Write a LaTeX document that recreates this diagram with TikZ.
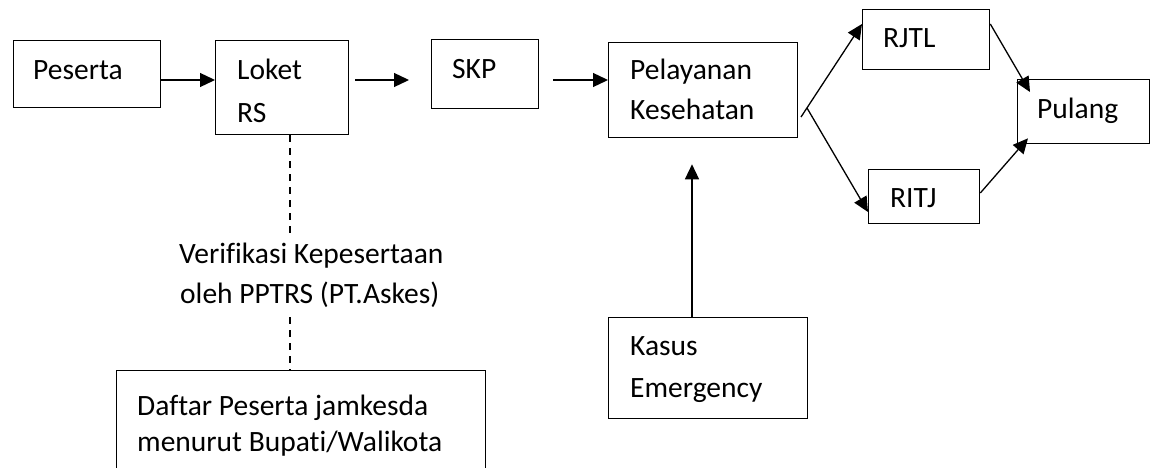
\documentclass[tikz,border=0pt]{standalone}
\usepackage{fontspec}
\setmainfont[Ligatures={NoCommon}]{Carlito}
\usetikzlibrary{arrows.meta,calc}
\begin{document}
\begin{tikzpicture}[x=1pt,y=-1pt,
  box/.style={draw, line width=1.3pt, inner sep=0pt, anchor=north west},
  lbl/.style={anchor=base west, inner sep=0pt, font=\fontsize{29.5}{40}\selectfont},
  arr/.style={line width=1.3pt, -{Triangle[length=15pt,width=14pt]}},
  dashline/.style={line width=1.3pt, dash pattern=on 7pt off 6pt}]
\useasboundingbox (0,0) rectangle (1150,468);
% boxes
\node[box, minimum width=147pt, minimum height=67pt] (peserta) at (13,40) {};
\node[box, minimum width=133pt, minimum height=94pt] (loket) at (215,40) {};
\node[box, minimum width=107pt, minimum height=69pt] (skp) at (431,39) {};
\node[box, minimum width=189pt, minimum height=95pt] (pel) at (608,42) {};
\node[box, minimum width=127pt, minimum height=60pt] (rjtl) at (862,9) {};
\node[box, minimum width=111pt, minimum height=54pt] (ritj) at (868,169) {};
\node[box, minimum width=132pt, minimum height=64pt] (pulang) at (1017,79) {};
\node[box, minimum width=199pt, minimum height=101pt] (kasus) at (608,317) {};
\node[box, minimum width=369pt, minimum height=110pt] (daftar) at (116,370) {};
% texts
\node[lbl] (t1) at (33,80) {Peserta};
\node[lbl] (t2) at (237,80) {Loket};
\node[lbl] (t3) at (237,122) {RS};
\node[lbl] (t4) at (452,79) {SKP};
\node[lbl] (t5) at (630,80) {Pelayanan};
\node[lbl] (t6) at (630,120) {Kesehatan};
\node[lbl] (t7) at (883,48) {RJTL};
\node[lbl] (t8) at (890,207) {RITJ};
\node[lbl] (t9) at (1037,118) {Pulang};
\node[lbl] (t10) at (630,355) {Kasus};
\node[lbl] (t11) at (630,397) {Emergency};
\node[lbl] (v1) at (179,263) {Verifikasi Kepesertaan};
\node[lbl] (v2) at (180,303) {oleh PPTRS (PT.Askes)};
\node[lbl] (t12) at (137,415) {Daftar Peserta jamkesda};
\node[lbl] (t13) at (137,451) {menurut Bupati/Walikota};
% connectors
\draw[arr] (peserta.east |- 0,80) -- (loket.west |- 0,80);
\draw[arr] ($(loket.east |- 0,80)+(6,0)$) -- ($(skp.west |- 0,80)+(-22,0)$);
\draw[arr] ($(skp.east |- 0,80)+(14,0)$) -- (pel.west |- 0,80);
\draw[arr] (kasus.north -| 692,0) -- ($(pel.south -| 692,0)+(0,26)$);
\coordinate (b1) at (801,117);
\coordinate (b2) at (807,108);
\draw[arr] (b1) -- (rjtl.west |- 0,24);
\draw[arr] (b2) -- (ritj.west |- 0,212);
\draw[arr] (rjtl.east |- 0,24) -- ($(pulang.north west)+(13,13)$);
\draw[arr] (ritj.east |- 0,193) -- ($(pulang.south west)+(11,-6)$);
\draw[dashline] (loket.south -| 290,0) -- (290,237);
\draw[dashline] (290,317) -- (daftar.north -| 290,0);
\end{tikzpicture}
\end{document}
